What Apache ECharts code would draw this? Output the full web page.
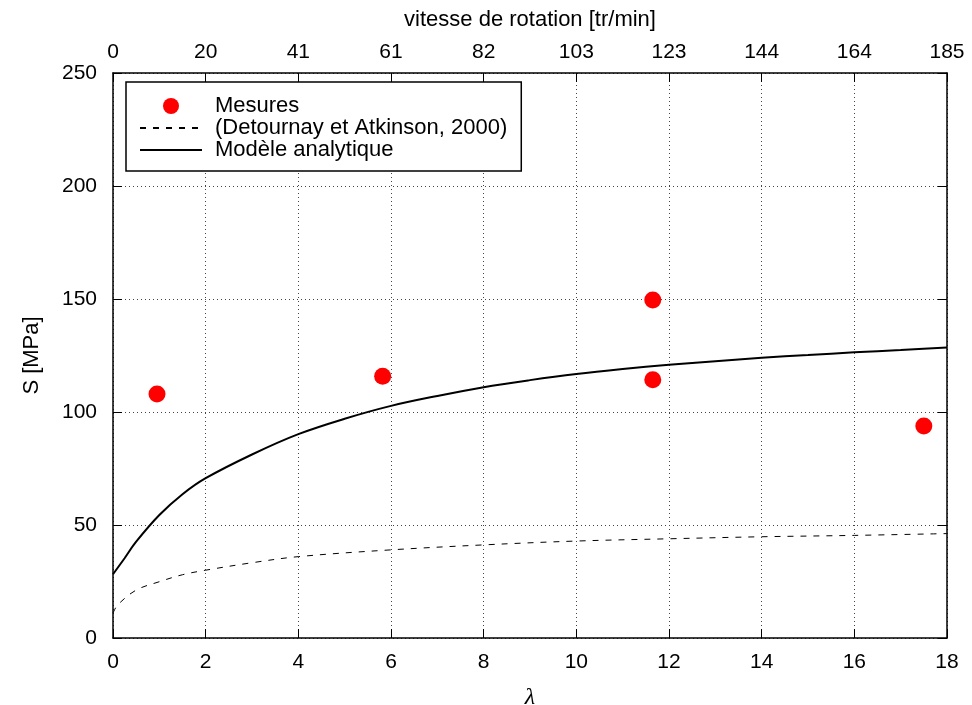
<!DOCTYPE html>
<html>
<head>
<meta charset="utf-8">
<script src="https://cdn.jsdelivr.net/npm/echarts@6/dist/echarts.min.js"></script>
<style>
html,body{margin:0;padding:0;background:#fff;}
#chart{width:972px;height:705px;}
</style>
</head>
<body>
<div id="chart"></div>
<script>
// λ ticks (bottom axis) and the matching top-axis labels (rotation speed, tr/min)
const lambdaTicks = [0, 2, 4, 6, 8, 10, 12, 14, 16, 18];
const speedLabels = ['0', '20', '41', '61', '82', '103', '123', '144', '164', '185'];

// Mesures (measured points)
const mesuresLambda = [0.95, 5.82, 11.65, 11.65, 17.5];
const mesuresS = [108, 115.8, 149.6, 114.3, 93.8];

// Modèle analytique (solid curve)
const modeleLambda = [0, 0.25, 0.5, 1, 1.5, 2, 3, 4, 5, 6, 7, 8, 9, 10, 11, 12, 13, 14, 15, 16, 17, 18];
const modeleS = [28.2, 35.3, 42.6, 54.4, 63.6, 70.7, 81.2, 90.2, 97.0, 102.7, 107.1, 111.0, 114.1, 116.8, 119.0, 120.9, 122.5, 124.0, 125.2, 126.4, 127.4, 128.5];

// (Detournay et Atkinson, 2000) (dashed curve)
const detLambda = [0, 0.1, 0.5, 1, 1.5, 2, 3, 4, 6, 8, 10, 12, 14, 16, 18];
const detS = [11, 14.6, 21.2, 24.9, 28.0, 30.0, 33.3, 36.0, 39.0, 41.2, 42.9, 43.9, 44.8, 45.4, 46.2];

const zip = (a, b) => a.map((v, i) => [v, b[i]]);

const chart = echarts.init(document.getElementById('chart'), null, {renderer: 'canvas'});
const FONT = 'Liberation Sans, Arial, Helvetica, sans-serif';
const gridLine = {show: true, lineStyle: {color: '#444', width: 1, type: [1, 3]}};
const axisLine = {show: true, onZero: false, lineStyle: {color: '#000', width: 1.5}};
const tick = {show: true, inside: true, length: 9, lineStyle: {color: '#000', width: 1}};
const noSymbol = {color: 'rgba(0,0,0,0)', borderColor: 'rgba(0,0,0,0)', borderWidth: 0, opacity: 0};

chart.setOption({
  animation: false,
  backgroundColor: '#fff',
  textStyle: {fontFamily: FONT},
  grid: {left: 113, right: 25, top: 73, bottom: 67, containLabel: false, outerBoundsMode: 'none'},
  legend: {
    left: 126, top: 82,
    orient: 'vertical',
    backgroundColor: '#fff',
    borderColor: '#000', borderWidth: 1.5, borderRadius: 0,
    padding: [13, 14, 10, 13],
    itemWidth: 62, itemHeight: 16, itemGap: 0, itemTextGap: 14,
    textStyle: {fontSize: 22, lineHeight: 22, color: '#000', fontFamily: FONT, padding: [0, 0, 0, 8]},
    data: [
      {name: 'Mesures'},
      {name: '(Detournay et Atkinson, 2000)', itemStyle: noSymbol},
      {name: 'Modèle analytique', itemStyle: noSymbol}
    ]
  },
  xAxis: [
    {
      type: 'value', position: 'bottom', min: 0, max: 18, interval: 2,
      axisLine: axisLine, axisTick: tick, splitLine: gridLine,
      axisLabel: {fontSize: 21, color: '#000', margin: 14, fontFamily: FONT},
      name: 'λ', nameLocation: 'middle', nameGap: 48,
      nameTextStyle: {fontSize: 24, fontStyle: 'italic', fontFamily: 'Liberation Serif, serif', color: '#000'}
    },
    {
      type: 'value', position: 'top', min: 0, max: 18, interval: 2,
      axisLine: axisLine, axisTick: tick, splitLine: {show: false},
      axisLabel: {fontSize: 21, color: '#000', margin: 10, fontFamily: FONT,
        formatter: v => speedLabels[lambdaTicks.indexOf(v)]},
      name: 'vitesse de rotation [tr/min]', nameLocation: 'middle', nameGap: 42,
      nameTextStyle: {fontSize: 22, color: '#000', fontFamily: FONT}
    }
  ],
  yAxis: [
    {
      type: 'value', position: 'left', min: 0, max: 250, interval: 50,
      axisLine: axisLine, axisTick: tick, splitLine: gridLine,
      axisLabel: {fontSize: 21, color: '#000', margin: 16, fontFamily: FONT},
      name: 'S [MPa]', nameLocation: 'middle', nameGap: 70, nameRotate: 90,
      nameTextStyle: {fontSize: 22, color: '#000', fontFamily: FONT}
    },
    {
      type: 'value', position: 'right', min: 0, max: 250, interval: 50,
      axisLine: axisLine, axisTick: tick, splitLine: {show: false},
      axisLabel: {show: false}
    }
  ],
  series: [
    {
      name: 'Mesures', type: 'scatter', xAxisIndex: 0, yAxisIndex: 0,
      symbol: 'circle', symbolSize: 17,
      itemStyle: {color: '#ff0000', opacity: 1},
      data: zip(mesuresLambda, mesuresS), z: 5
    },
    {
      name: '(Detournay et Atkinson, 2000)', type: 'line', xAxisIndex: 0, yAxisIndex: 0,
      symbol: 'none', smooth: 0.35,
      itemStyle: {color: '#000'},
      lineStyle: {color: '#000', width: 1, type: [6, 7]},
      data: zip(detLambda, detS)
    },
    {
      name: 'Modèle analytique', type: 'line', xAxisIndex: 0, yAxisIndex: 0,
      symbol: 'none', smooth: 0.35,
      itemStyle: {color: '#000'},
      lineStyle: {color: '#000', width: 2},
      data: zip(modeleLambda, modeleS)
    }
  ]
});
</script>
</body>
</html>
